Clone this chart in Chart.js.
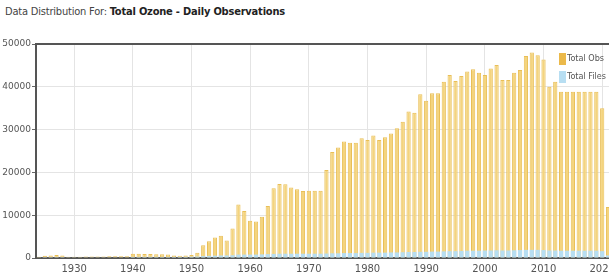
<!DOCTYPE html>
<html>
<head>
<meta charset="utf-8">
<script src="https://cdn.jsdelivr.net/npm/chart.js@4"></script>
<style>
    html, body { margin: 0; padding: 0; background: #fff; overflow: hidden; width: 609px; height: 280px; }
    .chart-title {
        position: absolute; left: 5px; top: 5px;
        font-family: "DejaVu Sans", sans-serif;
        font-stretch: condensed;
        font-size: 11px; letter-spacing: -0.2px; color: #444; white-space: nowrap;
    }
    .chart-title b { color: #222; }
    .chart-box { position: absolute; left: 0; top: 0; width: 614px; height: 280px; }
</style>
</head>
<body>
<div class="chart-title">Data Distribution For: <b>Total Ozone - Daily Observations</b></div>
<div class="chart-box"><canvas id="distChart" width="614" height="280"></canvas></div>
<script>
// Years on the x axis
const years = [];
for (let y = 1924; y <= 2021; y++) years.push(String(y));

// Total Obs per year, 1924..2021
const totalObs = [
    300, 500, 600, 700, 600, 300,                 // 1924-1929
    300, 300, 350, 350, 350, 350, 400, 400, 400, 400, // 1930-1939
    1000, 1000, 950, 950, 900, 850, 800, 600, 550, 600, // 1940-1949
    700, 1250, 3000, 3900, 4800, 5200, 4100, 6900, 12500, 11000, // 1950-1959
    8700, 8500, 9650, 12150, 16300, 17300, 17250, 16500, 16050, 15650, // 1960-1969
    15700, 15700, 15700, 20550, 24750, 25800, 27200, 26900, 26950, 27950, // 1970-1979
    27550, 28650, 27550, 28200, 29100, 30300, 31850, 34200, 33950, 38250, // 1980-1989
    36750, 38500, 38500, 41200, 42750, 41350, 42500, 43550, 44100, 43300, // 1990-1999
    42750, 44300, 45100, 41600, 41600, 43300, 43900, 47200, 48000, 47350, // 2000-2009
    46400, 40000, 41200, 38850, 38850, 38850, 38850, 38850, 38850, 38850, // 2010-2019
    35000, 11900                                   // 2020-2021
];

// Total Files per year, 1924..2021
const totalFiles = [
    150, 200, 200, 200, 200, 150,
    150, 150, 150, 150, 150, 150, 150, 150, 150, 150,
    250, 250, 250, 250, 250, 250, 250, 250, 250, 250,
    300, 350, 450, 500, 550, 600, 600, 650, 800, 800,
    800, 800, 850, 900, 950, 1000, 1000, 1000, 1000, 1000,
    1000, 1000, 1000, 1050, 1100, 1100, 1150, 1150, 1150, 1200,
    1200, 1250, 1250, 1250, 1300, 1300, 1350, 1400, 1400, 1450,
    1450, 1500, 1500, 1550, 1600, 1600, 1650, 1700, 1700, 1700,
    1750, 1750, 1800, 1750, 1750, 1800, 1850, 1900, 1900, 1900,
    1850, 1750, 1750, 1700, 1700, 1700, 1700, 1700, 1700, 1700,
    1600, 600
];

const yTicks = [0, 10000, 20000, 30000, 40000, 50000];

const FONT = "'DejaVu Sans', sans-serif";
const OBS_FILL = '#f4d47e';
const OBS_EDGE = '#e9bf57';
const OBS_KEY = '#ebb94a';
const FILES_FILL = '#b7def2';

/**
 * Top frame line + legend drawn inside the plot area
 */
const framePlugin = {
    id: 'frame',
    afterDraw(chart) {
        const { ctx, chartArea } = chart;
        ctx.save();
        ctx.strokeStyle = '#555';
        ctx.lineWidth = 2;
        ctx.beginPath();
        ctx.moveTo(chartArea.left, chartArea.top);
        ctx.lineTo(chartArea.right, chartArea.top);
        ctx.stroke();

        // legend
        const items = [
            { label: 'Total Obs', color: OBS_KEY },
            { label: 'Total Files', color: FILES_FILL }
        ];
        ctx.font = 'condensed 9px ' + FONT;
        ctx.textBaseline = 'middle';
        items.forEach((it, i) => {
            const y = 59 + i * 18;
            ctx.fillStyle = it.color;
            ctx.fillRect(559, y - 6, 7, 12);
            ctx.fillStyle = '#555';
            ctx.fillText(it.label, 567, y);
        });
        ctx.restore();
    }
};

document.addEventListener('DOMContentLoaded', () => {
    const ctx = document.getElementById('distChart');
    new Chart(ctx, {
        type: 'bar',
        data: {
            labels: years,
            datasets: [
                {
                    label: 'Total Obs',
                    data: totalObs,
                    backgroundColor: OBS_FILL,
                    borderColor: OBS_EDGE,
                    borderWidth: { left: 1, right: 1, top: 1, bottom: 0 },
                    barPercentage: 0.72,
                    categoryPercentage: 1,
                    order: 2
                },
                {
                    label: 'Total Files',
                    data: totalFiles,
                    backgroundColor: FILES_FILL,
                    borderWidth: 0,
                    barPercentage: 0.72,
                    categoryPercentage: 1,
                    order: 1
                }
            ]
        },
        options: {
            responsive: false,
            animation: false,
            devicePixelRatio: 1,
            layout: { padding: { top: 44, right: 3, left: 0, bottom: 0 } },
            plugins: {
                legend: { display: false },
                tooltip: { enabled: false }
            },
            scales: {
                x: {
                    stacked: true,
                    afterFit: (s) => { s.height = 22; },
                    grid: {
                        offset: false,
                        drawTicks: false,
                        color: (c) => (c.tick && Number(years[c.index]) % 10 === 0) ? '#e4e4e4' : 'transparent'
                    },
                    border: { color: '#555', width: 2 },
                    ticks: {
                        autoSkip: false,
                        maxRotation: 0,
                        padding: 5,
                        color: '#555',
                        font: { family: FONT, size: 10, style: 'condensed' },
                        callback: (v, i) => (Number(years[i]) % 10 === 0 ? years[i] : '')
                    }
                },
                y: {
                    stacked: false,
                    min: 0,
                    max: 50000,
                    afterFit: (s) => { s.width = 36; },
                    afterBuildTicks: (s) => { s.ticks = yTicks.map(v => ({ value: v })); },
                    grid: { color: '#e4e4e4', tickColor: '#666', tickLength: 4 },
                    border: { color: '#555', width: 2 },
                    ticks: {
                        color: '#555',
                        padding: 1,
                        font: { family: FONT, size: 9, style: 'condensed' },
                        callback: (v) => String(v)
                    }
                }
            }
        },
        plugins: [framePlugin]
    });
});
</script>
</body>
</html>
